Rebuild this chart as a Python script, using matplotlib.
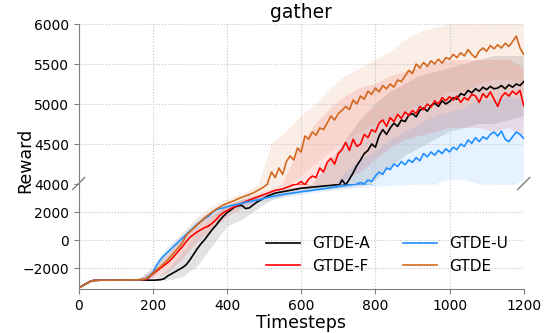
import numpy as np
import matplotlib
matplotlib.use("Agg")
import matplotlib.pyplot as plt
from matplotlib.lines import Line2D

# ---------------- data ----------------
t = np.arange(0, 1201, 10)
t_band = np.arange(0, 1201, 40)

labels = ["GTDE-A", "GTDE-F", "GTDE-U", "GTDE"]
colors = ["#000000", "#ff0000", "#1e90ff", "#d2691e"]

gtde = [-3400, -3250, -3100, -2950, -2870, -2860, -2850, -2850, -2850, -2845, -2850, -2845, -2840, -2840, -2835, -2830, -2820, -2800,
        -2750, -2600, -2350, -2100, -1900, -1650, -1400, -1100, -800, -500, -150, 350,
        600, 850, 1100, 1350, 1600, 1800, 2000, 2200, 2350, 2500,
        2620, 2720, 2820, 2950, 3050, 3150, 3250, 3350, 3500, 3650,
        3800, 4020, 4150, 4080, 4200, 4120, 4280, 4350, 4300, 4450,
        4400, 4600, 4560, 4650, 4610, 4700, 4680, 4760, 4850, 4800,
        4880, 4920, 4970, 4930, 5050, 5000, 5100, 5060, 5160, 5120,
        5200, 5150, 5230, 5190, 5250, 5210, 5300, 5280, 5350, 5420,
        5380, 5500, 5450, 5520, 5470, 5540, 5500, 5560, 5510, 5580,
        5560, 5620, 5580, 5640, 5600, 5680, 5620, 5580, 5660, 5700,
        5660, 5730, 5690, 5740, 5700, 5760, 5720, 5780, 5850, 5700,
        5620]

gtde_u = [-3400, -3250, -3100, -2950, -2870, -2860, -2850, -2850, -2850, -2845, -2850, -2845, -2840, -2840, -2835, -2830, -2820, -2800,
          -2750, -2550, -2300, -1800, -1400, -1100, -850, -600, -350, -100, 150, 400,
          650, 900, 1150, 1350, 1550, 1700, 1950, 2150, 2250, 2300,
          2380, 2450, 2500, 2560, 2620, 2700, 2750, 2800, 2850, 2900,
          2980, 3050, 3100, 3150, 3200, 3250, 3300, 3330, 3370, 3400,
          3450, 3480, 3520, 3550, 3600, 3630, 3660, 3700, 3740, 3780,
          3820, 3860, 3900, 3940, 3970, 4000, 4020, 4000, 4050, 4030,
          4100, 4150, 4120, 4200, 4180, 4250, 4220, 4280, 4240, 4300,
          4270, 4330, 4290, 4380, 4340, 4400, 4360, 4420, 4380, 4440,
          4400, 4460, 4430, 4500, 4470, 4550, 4510, 4580, 4530, 4590,
          4560, 4620, 4650, 4600, 4660, 4560, 4530, 4590, 4650, 4620,
          4570]

gtde_f = [-3400, -3250, -3100, -2950, -2870, -2860, -2850, -2850, -2850, -2845, -2850, -2845, -2840, -2840, -2835, -2830, -2825, -2815,
          -2800, -2650, -2400, -2200, -2000, -1800, -1600, -1350, -1050, -750, -450, -100,
          200, 400, 600, 750, 900, 1000, 1200, 1450, 1750, 1950,
          2100, 2250, 2380, 2500, 2620, 2750, 2850, 2950, 3050, 3150,
          3250, 3350, 3450, 3550, 3600, 3650, 3750, 3850, 3950, 4000,
          4030, 3990, 4060, 4100, 4080, 4200, 4150, 4270, 4320, 4250,
          4380, 4430, 4520, 4420, 4560, 4470, 4500, 4620, 4580, 4680,
          4650, 4760, 4800, 4720, 4830, 4780, 4870, 4820, 4900, 4860,
          4920, 4880, 4970, 4930, 5000, 4960, 5040, 5000, 5080, 5040,
          5090, 5050, 5100, 5020, 5080, 5050, 5120, 5100, 5020, 5130,
          5080, 5150, 5060, 4970, 5090, 5140, 5100, 5160, 5120, 5170,
          4980]

gtde_a = [-3400, -3250, -3100, -2950, -2870, -2860, -2850, -2850, -2850, -2845, -2850, -2845, -2840, -2840, -2835, -2830, -2830, -2835,
          -2840, -2850, -2850, -2840, -2820, -2750, -2550, -2400, -2250, -2100, -1950, -1750,
          -1400, -1000, -600, -250, 50, 400, 750, 1050, 1400, 1700,
          1950, 2150, 2350, 2450, 2480, 2250, 2300, 2500, 2700, 2850,
          3000, 3150, 3250, 3350, 3400, 3450, 3500, 3550, 3600, 3650,
          3700, 3720, 3750, 3780, 3800, 3830, 3850, 3880, 3900, 3930,
          3960, 4050, 3990, 4060, 4140, 4230, 4300, 4380, 4420, 4500,
          4460, 4600, 4680, 4620, 4700, 4760, 4720, 4800, 4780, 4860,
          4880, 4840, 4920, 4950, 4910, 4980, 5010, 4970, 5040, 5000,
          5030, 5080, 5060, 5130, 5110, 5170, 5140, 5190, 5160, 5210,
          5180, 5220, 5190, 5200, 5230, 5190, 5240, 5210, 5250, 5230,
          5280]

gtde_lo = [-3400, -2880, -2860, -2850, -2830, -2600, -1900, -800, 500, 1600, 2300, 2750, 3100, 3700, 3950, 4100,
           4250, 4400, 4550, 4650, 4750, 4800, 4900, 5000, 5050, 5150, 5150, 5250, 5300, 5300, 5250]
gtde_hi = [-3400, -2860, -2840, -2830, -2780, -2000, -700, 600, 1700, 2450, 2950, 3350, 3900, 4500, 4650, 4850,
           5000, 5200, 5350, 5450, 5550, 5650, 5800, 5900, 5950, 6000, 6050, 6100, 6100, 6150, 6050]
gtde_f_lo = [-3400, -2880, -2860, -2850, -2840, -2700, -2300, -1300, -100, 800, 1700, 2300, 2800, 3250, 3500, 3650,
             3750, 3900, 4050, 4150, 4300, 4450, 4550, 4600, 4650, 4700, 4700, 4700, 4650, 4700, 4600]
gtde_f_hi = [-3400, -2860, -2840, -2830, -2790, -2000, -900, 200, 1300, 1800, 2500, 2950, 3300, 3700, 4100, 4500,
             4750, 4950, 5100, 5200, 5250, 5350, 5400, 5450, 5500, 5550, 5550, 5550, 5550, 5550, 5450]
gtde_a_lo = [-3400, -2880, -2860, -2850, -2850, -2870, -2850, -2600, -1800, -400, 1000, 1500, 2200, 2900, 3200, 3400,
             3550, 3650, 3750, 3900, 4050, 4200, 4350, 4450, 4550, 4650, 4700, 4750, 4750, 4800, 4850]
gtde_a_hi = [-3400, -2860, -2840, -2830, -2820, -2830, -2000, -800, 600, 1700, 2500, 2900, 3200, 3450, 3650, 3850,
             4050, 4300, 4550, 4800, 5000, 5150, 5250, 5350, 5400, 5450, 5500, 5550, 5600, 5600, 5600]
gtde_u_lo = [-3400, -2880, -2860, -2850, -2840, -2700, -1300, -200, 800, 1700, 2150, 2400, 2650, 2900, 3100, 3250,
             3400, 3550, 3650, 3750, 3850, 3900, 3950, 4000, 4000, 4050, 4050, 4000, 4000, 3950, 4050]
gtde_u_hi = [-3400, -2860, -2840, -2830, -2790, -1800, -400, 500, 1500, 2200, 2600, 2850, 3050, 3300, 3500, 3650,
             3800, 3950, 4150, 4300, 4400, 4550, 4650, 4750, 4850, 4900, 4950, 5050, 5050, 5100, 5050]

xticks = [0, 200, 400, 600, 800, 1000, 1200]
top_yticks = [4000, 4500, 5000, 5500, 6000]
bot_yticks = [-2000, 0, 2000]

means = [gtde_a, gtde_f, gtde_u, gtde]
los = [gtde_a_lo, gtde_f_lo, gtde_u_lo, gtde_lo]
his = [gtde_a_hi, gtde_f_hi, gtde_u_hi, gtde_hi]

# ---------------- figure ----------------
W, H = 553, 333
fig = plt.figure(figsize=(W / 100, H / 100), dpi=100)

def fx(px):
    return px / W

def fy(py):
    return 1 - py / H

left, right = 78.7, 523.7
ax_top = fig.add_axes([fx(left), fy(184), fx(right) - fx(left), fy(24) - fy(184)])
ax_bot = fig.add_axes([fx(left), fy(289.3), fx(right) - fx(left), fy(184) - fy(289.3)])

spine_c = "#808080"
for ax in (ax_top, ax_bot):
    for m, lo, hi, c in zip(means, los, his, colors):
        ax.fill_between(t_band, lo, hi, color=c, alpha=0.11, linewidth=0)
    for m, c, lab in zip(means, colors, labels):
        ax.plot(t, m, color=c, linewidth=1.2, label=lab)
    ax.set_xlim(0, 1200)
    ax.set_xticks(xticks)
    ax.grid(True, linestyle=":", color="#c4c4c4", linewidth=0.8)
    ax.spines["top"].set_visible(False)
    ax.spines["right"].set_visible(False)
    ax.spines["left"].set_color(spine_c)
    ax.spines["bottom"].set_color(spine_c)
    ax.tick_params(labelsize=10, color=spine_c)

ax_top.set_ylim(4000, 6000)
ax_top.set_yticks(top_yticks)
ax_top.spines["bottom"].set_visible(False)
ax_top.tick_params(axis="x", bottom=False, labelbottom=False)

ax_bot.set_ylim(-3500, 4000)
ax_bot.set_yticks(bot_yticks)

ax_top.set_title("gather", fontsize=13.5, pad=4)
fig.text(fx(25), fy(160), "Reward", rotation=90, ha="center", va="center", fontsize=12.5)
ax_bot.set_xlabel("Timesteps", fontsize=12.5, labelpad=1)

# break marks
for cx, cy in ((left, 183.5), (right, 183.5)):
    fig.add_artist(Line2D([fx(cx - 6), fx(cx + 6)], [fy(cy + 6), fy(cy - 6)],
                          transform=fig.transFigure, color=spine_c, linewidth=1))

handles, labs = ax_bot.get_legend_handles_labels()
leg = ax_bot.legend(handles, labs, ncol=2, frameon=False, fontsize=11,
                    loc="center", bbox_to_anchor=(fx(387), fy(255)),
                    bbox_transform=fig.transFigure, handlelength=2.2,
                    columnspacing=2.2, labelspacing=0.5)

fig.savefig("out.png", dpi=100)
